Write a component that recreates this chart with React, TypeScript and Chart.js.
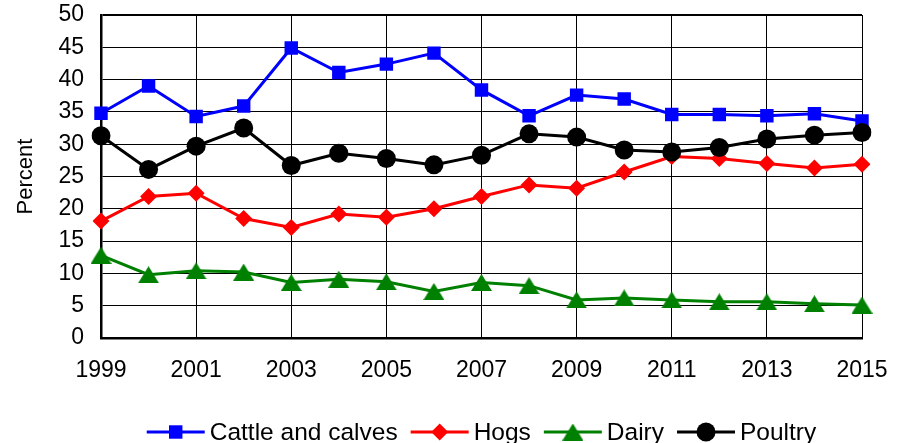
import React, { useEffect, useRef } from "react";
import { Chart, registerables } from "chart.js";

Chart.register(...registerables);

const years = ["1999", "2000", "2001", "2002", "2003", "2004", "2005", "2006", "2007", "2008", "2009", "2010", "2011", "2012", "2013", "2014", "2015"];
const cattleAndCalves = [34.8, 39.0, 34.3, 35.9, 44.9, 41.1, 42.4, 44.1, 38.4, 34.4, 37.6, 37.0, 34.6, 34.6, 34.4, 34.7, 33.6];
const hogs = [18.1, 21.9, 22.4, 18.5, 17.1, 19.2, 18.7, 20.0, 21.9, 23.7, 23.2, 25.7, 28.1, 27.8, 27.0, 26.3, 26.9];
const dairy = [12.8, 9.8, 10.4, 10.2, 8.6, 9.1, 8.7, 7.2, 8.6, 8.1, 5.9, 6.2, 5.9, 5.6, 5.6, 5.3, 5.1];
const poultry = [31.3, 26.1, 29.7, 32.5, 26.7, 28.6, 27.8, 26.8, 28.3, 31.6, 31.1, 29.1, 28.8, 29.5, 30.8, 31.4, 31.8];
const yTicks = [0, 5, 10, 15, 20, 25, 30, 35, 40, 45, 50];

const FONT = '"Liberation Sans", Arial, sans-serif';
const BLUE = "#0000ff";
const RED = "#ff0000";
const GREEN = "#008000";
const BLACK = "#000000";

// Triangle marker centred on its bounding box
function makeTriangle(color: string, w: number, h: number): HTMLCanvasElement {
  const c = document.createElement("canvas");
  c.width = w;
  c.height = h;
  const g = c.getContext("2d")!;
  g.fillStyle = color;
  g.beginPath();
  g.moveTo(w / 2, 0);
  g.lineTo(w, h);
  g.lineTo(0, h);
  g.closePath();
  g.fill();
  return c;
}

type Marker = { style: string; radius: number; img?: HTMLCanvasElement };

function drawMarker(ctx: CanvasRenderingContext2D, m: Marker, color: string, x: number, y: number) {
  ctx.save();
  ctx.fillStyle = color;
  ctx.beginPath();
  if (m.img) {
    ctx.drawImage(m.img, x - m.img.width / 2, y - m.img.height / 2);
  } else if (m.style === "rect") {
    const s = Math.SQRT1_2 * m.radius;
    ctx.rect(x - s, y - s, 2 * s, 2 * s);
    ctx.fill();
  } else if (m.style === "rectRot") {
    ctx.moveTo(x, y - m.radius);
    ctx.lineTo(x + m.radius, y);
    ctx.lineTo(x, y + m.radius);
    ctx.lineTo(x - m.radius, y);
    ctx.closePath();
    ctx.fill();
  } else {
    ctx.arc(x, y, m.radius, 0, Math.PI * 2);
    ctx.fill();
  }
  ctx.restore();
}

export default function App() {
  const ref = useRef<HTMLCanvasElement | null>(null);

  useEffect(() => {
    document.body.style.margin = "0";
    const canvas = ref.current;
    if (!canvas) return;

    const tri = makeTriangle(GREEN, 21, 17);

    const series = [
      { label: "Cattle and calves", data: cattleAndCalves, color: BLUE, marker: { style: "rect", radius: 9.5 } as Marker, order: 3 },
      { label: "Hogs", data: hogs, color: RED, marker: { style: "rectRot", radius: 8.5 } as Marker, order: 2 },
      { label: "Dairy", data: dairy, color: GREEN, marker: { style: "triangle", radius: 11, img: tri } as Marker, order: 1 },
      { label: "Poultry", data: poultry, color: BLACK, marker: { style: "circle", radius: 9.5 } as Marker, order: 0 },
    ];

    // Legend: a line segment with the series marker, followed by its name
    const legendPlugin = {
      id: "lineLegend",
      afterDraw(chart: any) {
        const ctx: CanvasRenderingContext2D = chart.ctx;
        const area = chart.chartArea;
        const y = 432;
        const lineLen = 58;
        const textGap = 5;
        const itemGap = 13;
        ctx.save();
        ctx.font = `24.5px ${FONT}`;
        ctx.textBaseline = "middle";
        const widths = series.map((s) => lineLen + textGap + ctx.measureText(s.label).width);
        const total = widths.reduce((a, b) => a + b, 0) + itemGap * (series.length - 1);
        let x = (area.left + area.right) / 2 - total / 2;
        series.forEach((s, i) => {
          ctx.strokeStyle = s.color;
          ctx.lineWidth = 3;
          ctx.beginPath();
          ctx.moveTo(x, y);
          ctx.lineTo(x + lineLen, y);
          ctx.stroke();
          drawMarker(ctx, s.marker, s.color, x + lineLen / 2, y);
          ctx.fillStyle = BLACK;
          ctx.fillText(s.label, x + lineLen + textGap, y + 1);
          x += widths[i] + itemGap;
        });
        ctx.restore();
      },
    };

    const chart = new Chart(canvas, {
      type: "line",
      data: {
        labels: years,
        datasets: series.map((s) => ({
          label: s.label,
          data: s.data,
          borderColor: s.color,
          backgroundColor: s.color,
          borderWidth: 3,
          tension: 0,
          pointStyle: (s.marker.img ?? s.marker.style) as any,
          pointRadius: s.marker.radius,
          pointBorderWidth: 0,
          pointBackgroundColor: s.color,
          pointBorderColor: s.color,
          order: s.order,
        })),
      },
      options: {
        animation: false,
        responsive: false,
        events: [],
        layout: { autoPadding: false, padding: { top: 15, right: 41, bottom: 0, left: 0 } },
        plugins: {
          legend: { display: false },
          tooltip: { enabled: false },
        },
        scales: {
          x: {
            type: "category",
            offset: false,
            afterFit: (scale: any) => {
              scale.height = 105;
              scale.paddingLeft = 0;
              scale.paddingRight = 0;
            },
            grid: {
              color: BLACK,
              lineWidth: (c: any) => (c.index === years.length - 1 ? 2 : 1),
              drawTicks: false,
            },
            border: { color: BLACK, width: 2.5 },
            ticks: {
              autoSkip: false,
              maxRotation: 0,
              padding: 19,
              color: BLACK,
              font: { family: FONT, size: 23 },
              callback: (_v: any, i: number) => (i % 2 === 0 ? years[i] : null),
            },
          },
          y: {
            min: 0,
            max: 50,
            afterFit: (scale: any) => {
              scale.width = 101;
              scale.paddingTop = 0;
              scale.paddingBottom = 0;
            },
            afterBuildTicks: (scale: any) => {
              scale.ticks = yTicks.map((v) => ({ value: v }));
            },
            grid: {
              color: BLACK,
              lineWidth: (c: any) => (c.tick && c.tick.value === 50 ? 2 : 1),
              drawTicks: false,
            },
            border: { color: BLACK, width: 2.5 },
            title: {
              display: true,
              text: "Percent",
              color: BLACK,
              font: { family: FONT, size: 22 },
              padding: { top: 13, bottom: 0 },
            },
            ticks: {
              padding: 17,
              color: BLACK,
              font: { family: FONT, size: 23 },
            },
          },
        },
      },
      plugins: [legendPlugin],
    });

    return () => chart.destroy();
  }, []);

  return (
    <div style={{ width: 903, height: 443 }}>
      <canvas ref={ref} width={903} height={443} style={{ display: "block" }} />
    </div>
  );
}
